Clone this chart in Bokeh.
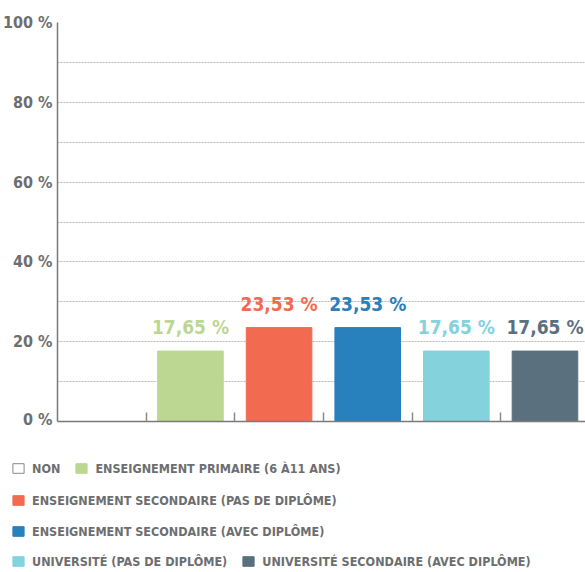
from bokeh.plotting import figure
from bokeh.core.properties import value
from bokeh.models import (ColumnDataSource, Range1d, FixedTicker, PrintfTickFormatter,
                          LabelSet, Legend, LegendItem)
from bokeh.embed import file_html
from bokeh.resources import INLINE

# ---- data ----
categories = ["NON", "ENSEIGNEMENT PRIMAIRE (6 À11 ANS)",
              "ENSEIGNEMENT SECONDAIRE (PAS DE DIPLÔME)",
              "ENSEIGNEMENT SECONDAIRE (AVEC DIPLÔME)",
              "UNIVERSITÉ (PAS DE DIPLÔME)",
              "UNIVERSITÉ SECONDAIRE (AVEC DIPLÔME)"]
values = [0.0, 17.65, 23.53, 23.53, 17.65, 17.65]
value_labels = ["", "17,65 %", "23,53 %", "23,53 %", "17,65 %", "17,65 %"]
colors = ["#ffffff", "#bcd792", "#f26b50", "#2880bc", "#84d2dc", "#5b707f"]
y_ticks = [0, 20, 40, 60, 80, 100]
grid_ticks = [10, 20, 30, 40, 50, 60, 70, 80, 90, 100]
legend_rows = [[0, 1], [2], [3], [4, 5]]

FONT = "DejaVu Sans Condensed"
GRAY = "#6d6e70"

p = figure(width=585, height=428, output_backend="svg", toolbar_location=None,
           x_range=Range1d(0, 529 / 88.8), y_range=Range1d(0, 100),
           min_border_left=56, min_border_right=0, min_border_top=22, min_border_bottom=7)
p.outline_line_color = None

xs = [i + 0.5 for i in range(len(categories))]
for i, (x, v, c) in enumerate(zip(xs, values, colors)):
    if v <= 0:
        continue
    src = ColumnDataSource(dict(x=[x], top=[v]))
    p.vbar(x="x", top="top", width=0.74, source=src, fill_color=c, line_color=c, line_width=1)

lab_src = ColumnDataSource(dict(x=xs[1:], y=values[1:], t=value_labels[1:], c=colors[1:]))
labels = LabelSet(x="x", y="y", text="t", source=lab_src, text_color="c",
                  text_align="center", text_baseline="alphabetic", y_offset=17,
                  text_font=value(FONT), text_font_style="bold", text_font_size="19px")
p.add_layout(labels)

# y axis
p.yaxis.ticker = FixedTicker(ticks=y_ticks)
p.yaxis.formatter = PrintfTickFormatter(format="%d %%")
p.yaxis.major_tick_in = 0
p.yaxis.major_tick_out = 0
p.yaxis.minor_tick_in = 0
p.yaxis.minor_tick_out = 0
p.yaxis.axis_line_color = "#7a7a7a"
p.yaxis.axis_line_width = 1.5
p.yaxis.major_label_standoff = 5
p.yaxis.major_label_text_font = FONT
p.yaxis.major_label_text_font_style = "bold"
p.yaxis.major_label_text_font_size = "16px"
p.yaxis.major_label_text_color = GRAY

# x axis: boundary ticks only
p.xaxis.ticker = FixedTicker(ticks=[1, 2, 3, 4, 5])
p.xaxis.major_tick_in = 9
p.xaxis.major_tick_out = 0
p.xaxis.minor_tick_in = 0
p.xaxis.minor_tick_out = 0
p.xaxis.major_tick_line_color = "#8a8a8a"
p.xaxis.major_tick_line_width = 1.5
p.xaxis.axis_line_color = "#7a7a7a"
p.xaxis.axis_line_width = 1.5
p.xaxis.major_label_text_color = None
p.xaxis.major_label_text_font_size = "0px"
p.xaxis.major_label_standoff = 0

# grid
p.xgrid.grid_line_color = None
p.ygrid.ticker = FixedTicker(ticks=grid_ticks)
p.ygrid.grid_line_color = "#b8b8b8"
p.ygrid.grid_line_dash = "2 1"
p.ygrid.grid_line_width = 1

# ---- legend figure ----
lf = figure(width=585, height=144, output_backend="svg", toolbar_location=None,
            x_axis_type=None, y_axis_type=None, x_range=Range1d(0, 1), y_range=Range1d(0, 1),
            min_border=0, min_border_left=0, min_border_right=0,
            min_border_top=0, min_border_bottom=0)
lf.outline_line_color = None
lf.grid.grid_line_color = None
dummies = []
for i, c in enumerate(colors):
    dsrc = ColumnDataSource(dict(x=[-10], top=[-10]))
    dummies.append(lf.vbar(x="x", top="top", width=0.5, source=dsrc, fill_color=c,
                           line_color=("#8a8a8a" if i == 0 else c), line_width=1))

row_y = [94, 62, 31, 1]
for row, ry in zip(legend_rows, row_y):
    items = [LegendItem(label=categories[i], renderers=[dummies[i]]) for i in row]
    lg = Legend(items=items, orientation="horizontal", location=(11, ry),
                padding=0, margin=0, spacing=14, label_standoff=7,
                glyph_width=14, glyph_height=12, label_height=20,
                label_text_font=FONT, label_text_font_style="bold",
                label_text_font_size="12.5px", label_text_color=GRAY,
                border_line_color=None, background_fill_alpha=0)
    lf.add_layout(lg, "center")

open("out.html", "w").write(file_html([p, lf], INLINE))
